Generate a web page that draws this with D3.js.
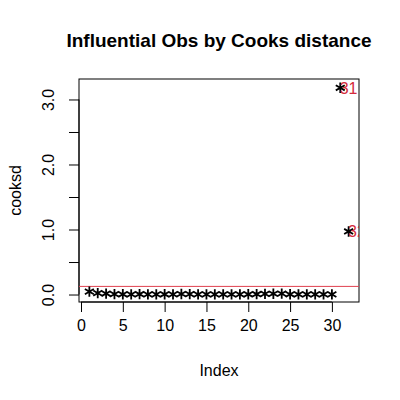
<!DOCTYPE html>
<html><head><meta charset="utf-8">
<script src="https://cdn.jsdelivr.net/npm/d3@7"></script>
<style>
html,body{margin:0;padding:0;background:#fff;}
text{font-family:"Liberation Sans",Arial,Helvetica,sans-serif;}
</style></head>
<body>
<svg id="chart" width="400" height="400"></svg>
<script>
const obsIndex = [1,2,3,4,5,6,7,8,9,10,11,12,13,14,15,16,17,18,19,20,21,22,23,24,25,26,27,28,29,30,31,32];
const cooksd = [0.045,0.022,0.015,0.006,0.004,0.003,0.005,0.002,0.003,0.004,0.003,0.008,0.006,0.003,0.002,0.003,0.002,0.003,0.002,0.004,0.005,0.010,0.012,0.014,0.004,0.003,0.002,0.003,0.002,0.002,3.18,0.97];
const cutoff = 0.125; // 4/n
const xTicks = [0,5,10,15,20,25,30];
const yTicks = [0,0.5,1,1.5,2,2.5,3];
const yTickLabels = ["0.0","","1.0","","2.0","","3.0"];
const title = "Influential Obs by Cooks distance";
const xLabel = "Index";
const yLabel = "cooksd";

const svg = d3.select("#chart");
const L = 79, R = 359, T = 79, B = 302;
const x = d3.scaleLinear().domain([-0.24, 33.24]).range([L, R]);
const y = d3.scaleLinear().domain([-0.115, 3.315]).range([B, T]);

svg.append("defs").append("clipPath").attr("id","clip")
  .append("rect").attr("x",L).attr("y",T).attr("width",R-L).attr("height",B-T);

// box
svg.append("rect").attr("x",L).attr("y",T).attr("width",R-L).attr("height",B-T)
  .attr("fill","none").attr("stroke","#000").attr("stroke-width",1);

// x axis
const xa = svg.append("g").attr("transform",`translate(0,${B})`)
  .call(d3.axisBottom(x).tickValues(xTicks).tickSize(10).tickPadding(8).tickFormat(d3.format("d")));
xa.select(".domain").attr("d",`M${x(0)},0H${x(30)}`);
xa.selectAll("text").attr("font-size",16).attr("font-family","Liberation Sans").attr("fill","#000");

// y axis
const ya = svg.append("g").attr("transform",`translate(${L},0)`)
  .call(d3.axisLeft(y).tickValues(yTicks).tickSize(10).tickFormat((d,i)=>yTickLabels[i]));
ya.select(".domain").attr("d",`M0,${y(0)}V${y(3)}`);
ya.selectAll(".tick text").attr("font-size",16).attr("font-family","Liberation Sans").attr("fill","#000")
  .attr("text-anchor","middle").attr("dy",null)
  .attr("transform","translate(-25,0) rotate(-90)").attr("x",0).attr("y",0);

// cutoff line
svg.append("line").attr("x1",L).attr("x2",R).attr("y1",y(cutoff)).attr("y2",y(cutoff))
  .attr("stroke","#e0404f").attr("stroke-width",1);

// points
const star = d3.symbol().type(d3.symbolAsterisk).size(75);
svg.append("g").attr("clip-path","url(#clip)").selectAll("path").data(obsIndex).join("path")
  .attr("d", star)
  .attr("transform",(d,i)=>`translate(${x(d)},${y(cooksd[i])})`)
  .attr("fill","none").attr("stroke","#000").attr("stroke-width",1.8);

// labels for influential
svg.append("g").attr("clip-path","url(#clip)").selectAll("text")
  .data(obsIndex.filter((d,i)=>cooksd[i]>cutoff)).join("text")
  .attr("x",d=>x(d+1)).attr("y",d=>y(cooksd[d-1])+5.8)
  .attr("text-anchor","middle").attr("font-size",16).attr("fill","#d42a3c")
  .text(d=>String(d));

// titles
svg.append("text").attr("x",(L+R)/2).attr("y",47).attr("text-anchor","middle")
  .attr("font-size",19).attr("font-weight","bold").text(title);
svg.append("text").attr("x",(L+R)/2).attr("y",376).attr("text-anchor","middle")
  .attr("font-size",16).text(xLabel);
svg.append("text").attr("transform",`translate(21,${(T+B)/2}) rotate(-90)`).attr("text-anchor","middle")
  .attr("font-size",16).text(yLabel);
</script>
</body></html>
